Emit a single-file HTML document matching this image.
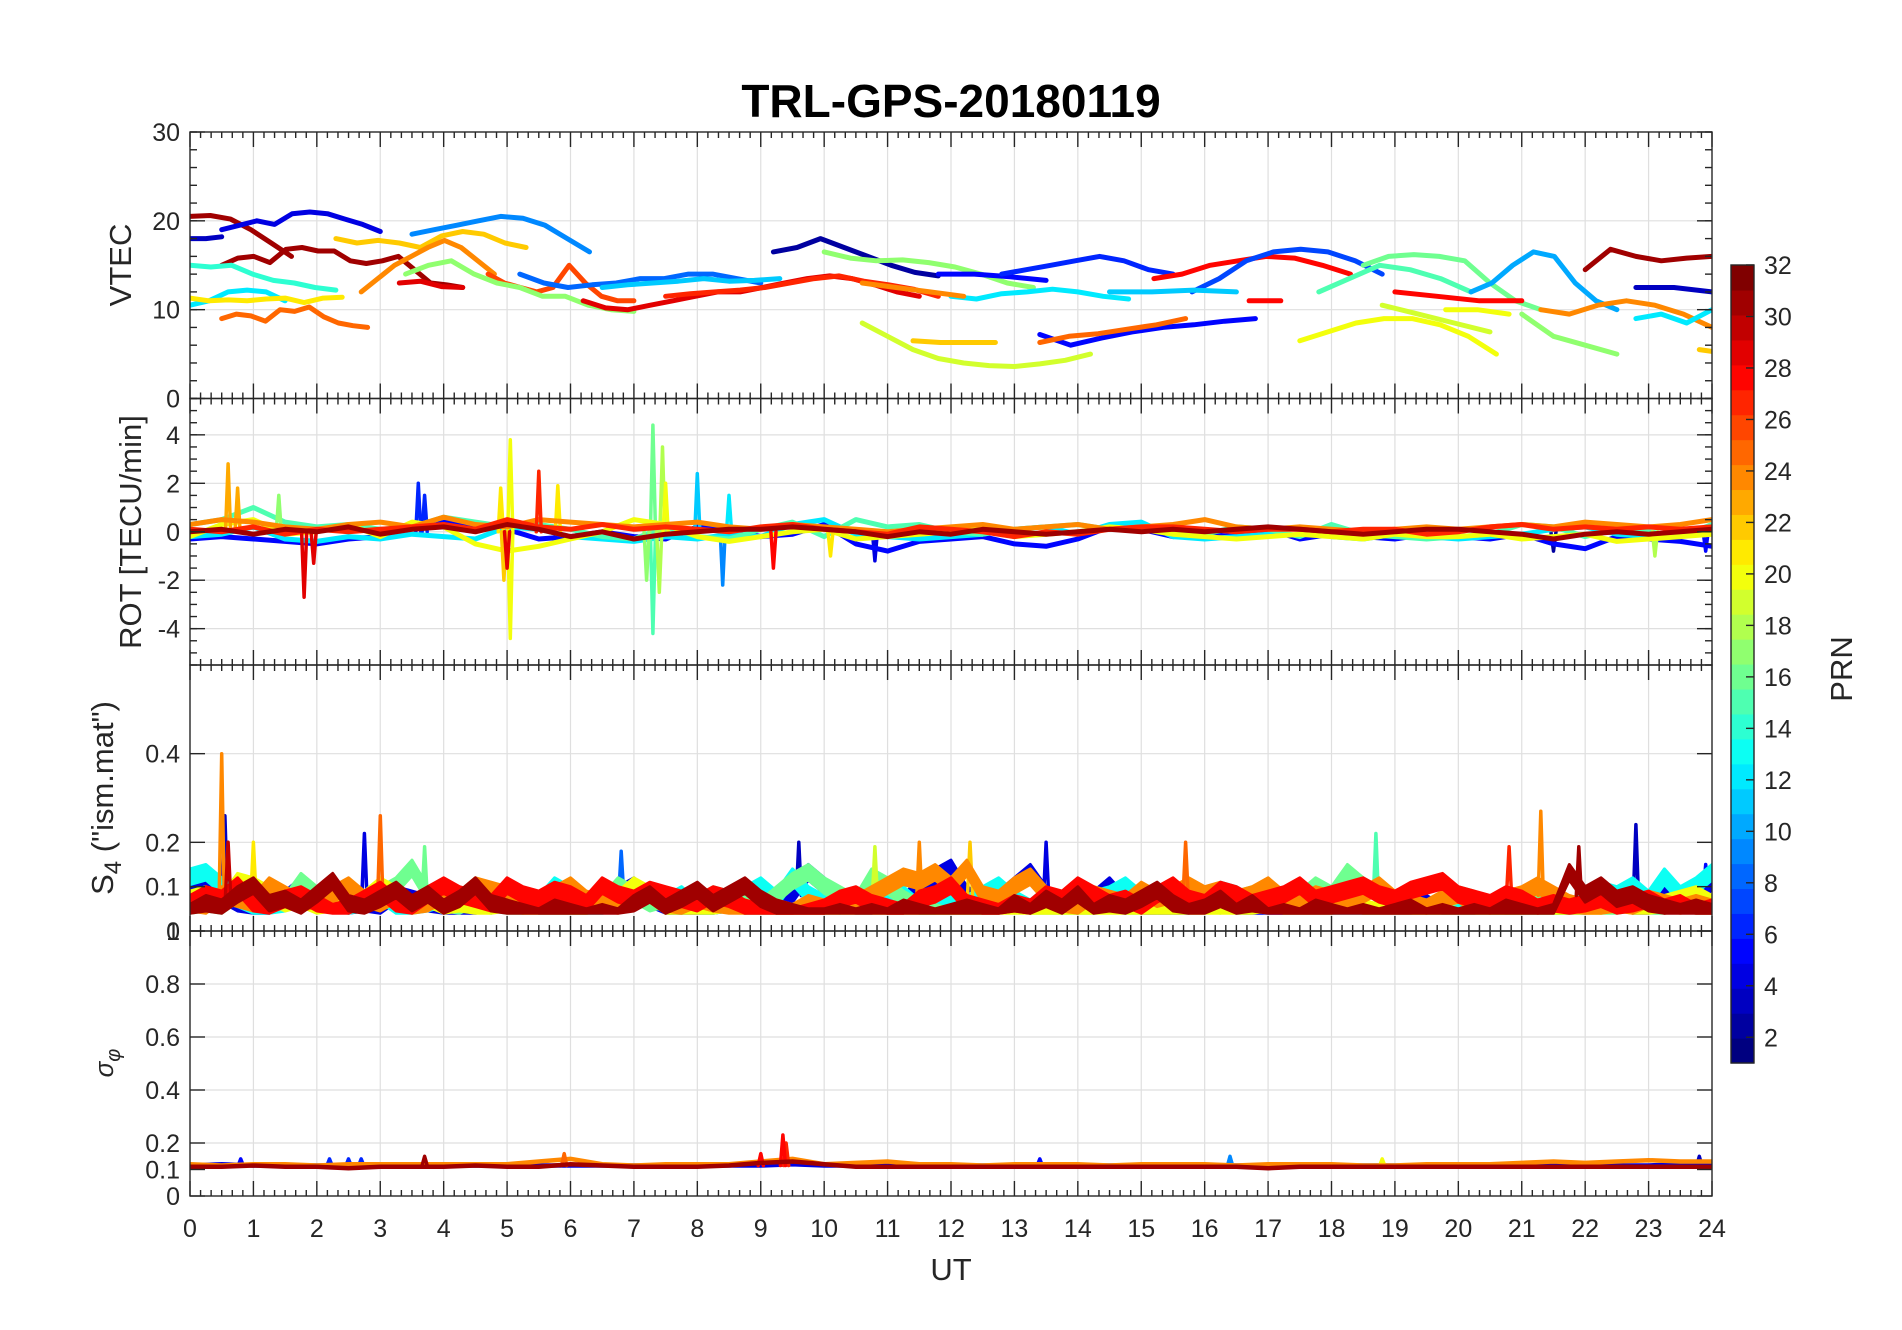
<!DOCTYPE html>
<html><head><meta charset="utf-8"><title>TRL-GPS-20180119</title>
<style>html,body{margin:0;padding:0;background:#fff}svg{display:block;font-family:"Liberation Sans",Arial,sans-serif}</style>
</head><body>
<svg id="chart" width="1902" height="1330" viewBox="0 0 1902 1330" xmlns="http://www.w3.org/2000/svg">
<text x="951" y="117" text-anchor="middle" font-size="46" font-weight="bold" fill="#000">TRL-GPS-20180119</text>
<text x="951" y="1280" text-anchor="middle" font-size="31" fill="#262626">UT</text>
<text transform="translate(131,265) rotate(-90)" text-anchor="middle" font-size="31" fill="#262626">VTEC</text>
<text transform="translate(141,532) rotate(-90)" text-anchor="middle" font-size="31" fill="#262626">ROT [TECU/min]</text>
<text transform="translate(113,798) rotate(-90)" text-anchor="middle" font-size="31" fill="#262626">S<tspan font-size="24" dy="8">4</tspan><tspan dy="-8"> ("ism.mat")</tspan></text>
<text transform="translate(113,1063) rotate(-90)" text-anchor="middle" font-size="26" font-style="italic" fill="#262626">σ<tspan font-size="20" dy="7">φ</tspan></text>
<text transform="translate(1852,669) rotate(-90)" text-anchor="middle" font-size="31" fill="#262626">PRN</text>
<g id="layer"></g>
</svg>
<script>
// ---------- data ----------
const vtecPrn = [31,3,4,31,14,12,21,25,9,22,24,29,26,17,8,11,29,27,2,17,5,6,12,19,22,5,25,24,28,7,11,15,16,20,19,28,10,31,3,24,17,12,22,28,20];
const vtecT0 = [0,0,0.5,0.5,0,0,0,0.5,3.5,2.3,2.7,3.3,4.7,3.4,5.2,6.5,6.2,7.5,9.2,10,11.8,12.8,12,10.6,11.4,13.4,13.4,10.6,15.2,15.8,14.5,17.8,18.5,17.5,18.8,19,20.2,22,22.8,21.3,21,22.8,23.8,16.7,19.8];
const vtecT1 = [1.6,0.5,3.0,4.3,2.3,1.5,2.4,2.8,6.3,5.3,4.8,4.3,7.0,7.0,9.0,9.3,11.5,11.8,11.8,13.3,13.5,15.5,14.8,14.2,12.7,16.8,15.7,12.2,18.3,18.8,16.5,20.2,21.3,20.6,20.5,21,22.5,24,24,24,22.5,24,24,17.2,20.8];
const vtecVals = [
[20.5,20.6,20.2,19,17.5,16],[18,18,18.2],[19,19.5,20,19.6,20.8,21,20.8,20.2,19.6,18.8],
[15,15.8,16,15.3,16.8,17,16.6,16.6,15.5,15.2,15.5,16,14.5,13,12.8,12.5],[15,14.8,15,14,13.3,13,12.5,12.2],
[10.5,11,12,12.2,12,11],[11.3,11,11.1,11,11.2,11.3,10.8,11.3,11.4],[9,9.5,9.3,8.7,10,9.8,10.3,9.2,8.5,8.2,8],
[18.5,19,19.5,20,20.5,20.3,19.5,18,16.5],[18,17.5,17.8,17.5,17,18.3,18.8,18.5,17.5,17],[12,13.5,15,16,17,17.8,17,15.5,14],
[13,13.2,12.6,12.5],[14,13,12.5,12,12.5,15,13,11.5,11,11],[14,15,15.5,14,13,12.5,11.5,11.5,10.5,10,9.8],
[14,13,12.5,12.8,13,13.5,13.5,14,14,13.5,13],[12.5,12.8,13,13.2,13.5,13.2,13.3,13.5],
[11,10.2,10,10.5,11,11.5,12,12,12.5,13,13.5,13.8,13.5,12.8,12,11.5],[11.5,11.8,12,12.2,12.5,13,13.5,13.8,13.2,12.8,12.3,11.5],
[16.5,17,18,17,16,15,14.2,13.8],[16.5,15.8,15.5,15.6,15.3,14.8,14,13,12.5],[14,14,13.7,13.3],[14,14.5,15,15.5,16,15.5,14.5,14],
[11.5,11.2,11.8,12,12.3,12,11.5,11.2],[8.5,7,5.5,4.5,4,3.7,3.6,3.9,4.3,5],[6.5,6.3,6.3,6.3],[7.2,6,6.8,7.5,8,8.3,8.7,9],
[6.3,7,7.3,7.8,8.3,9],[13,12.5,12,11.5],[13.5,14,15,15.5,16,15.8,15,14],[12,13.5,15.5,16.5,16.8,16.5,15.5,14],
[12,12,12.2,12],[12,13.5,15,14.5,13.5,12],[15,16,16.2,16,15.5,13,11,10],[6.5,7.5,8.5,9,9,8.3,7,5],[10.5,9.5,8.5,7.5],
[12,11.5,11,11],[12,13,15,16.5,16,13,11,10],[14.5,16.8,16,15.5,15.8,16],[12.5,12.5,12],[10,9.5,10.5,11,10.5,9.5,8],
[9.5,7,6,5],[9,9.5,8.5,10],[5.5,5.3],[11,11],[10,10,9.5]];

const rotPrn = [5,12,15,20,24,27,31];
const rotVals = [
[-.3,-.2,-.3,-.4,-.5,-.3,-.2,.3,.5,.2,.1,-.3,-.2,0,-.2,-.3,.2,.1,-.2,-.1,.3,-.5,-.8,-.4,-.3,-.2,-.5,-.6,-.3,.2,.1,-.2,-.1,-.2,.1,-.3,-.1,-.2,-.3,-.1,-.2,-.3,-.1,-.5,-.7,-.2,-.3,-.4,-.6],
[-.2,-.1,.2,-.3,-.4,-.2,-.3,-.1,-.2,-.3,.2,.1,-.2,-.3,-.4,-.2,-.3,-.1,-.2,.3,.5,-.1,-.2,-.3,-.2,-.1,.1,.2,-.1,.3,.4,-.2,-.3,-.2,-.1,.2,-.2,-.3,-.1,-.2,-.3,-.2,-.1,.1,.2,-.1,-.2,-.1,0],
[.3,.5,1,.4,.2,.3,.1,.2,.6,.4,.2,.3,.1,-.2,-.3,.2,-.2,-.3,.1,.4,-.2,.5,.2,.3,0,-.1,.1,.2,.3,.1,.2,0,-.1,.2,.1,-.2,.3,-.1,-.2,-.3,-.2,-.1,.3,.2,-.2,.1,0,-.2,.3],
[-.2,.3,.5,-.1,0,.3,-.2,.4,.2,-.5,-.8,-.6,-.3,0,.5,.3,-.2,-.4,-.2,0,.1,-.3,-.2,-.1,0,.1,-.2,-.1,0,.2,.1,-.1,-.2,-.3,-.2,-.1,-.2,-.3,-.1,-.2,-.2,-.1,-.3,-.2,-.1,-.4,-.3,-.2,-.1],
[.3,.5,.4,.2,.1,.3,.4,.2,.6,.3,.2,.5,.4,.3,.2,.3,.4,.2,.1,.3,.2,.1,0,.1,.2,.3,.1,.2,.3,.1,.2,.3,.5,.2,.1,.2,.1,0,.1,.2,.1,.2,.3,.2,.4,.3,.2,.3,.5],
[.1,0,.2,-.1,.1,0,.1,.2,.3,.1,.5,.2,.1,.3,.1,.2,.1,0,.2,.3,.1,0,-.1,.2,.1,0,-.2,0,-.1,.1,.2,.2,.1,0,.1,.1,0,.1,.1,-.1,0,.2,.3,.1,.2,.1,.2,.1,.2],
[0,.1,-.1,.1,0,.2,-.1,.1,.2,0,.3,.1,-.2,0,-.3,-.1,0,.1,.1,.2,.1,0,-.2,0,-.1,.1,0,-.1,0,.1,0,.1,0,.1,.2,.1,0,-.1,0,.1,.1,0,-.1,-.3,-.1,0,-.1,0,.1]];
const rotSpikeT = [0.6,0.75,1.4,1.8,1.95,3.6,3.7,4.9,5.05,5.05,4.95,5.5,5.0,5.8,7.3,7.3,7.45,7.4,7.5,7.2,8.0,8.4,8.5,9.2,10.1,10.8,21.5,23.9,23.1];
const rotSpikeV = [2.8,1.8,1.5,-2.7,-1.3,2.0,1.5,1.8,3.8,-4.4,-2.0,2.5,-1.5,1.9,4.4,-4.2,3.5,-2.5,2.0,-2.0,2.4,-2.2,1.5,-1.5,-1.0,-1.2,-0.8,-0.8,-1.0];
const rotSpikePrn = [23,23,17,29,29,6,6,21,20,20,22,27,29,21,16,15,18,18,20,17,11,9,12,28,21,4,2,5,18];

const s4Prn = [4,13,16,20,24,28,31];
const s4Vals = [
[.12,.14,.1,.08,.06,.07,.09,.12,.08,.1,.06,.08,.07,.1,.09,.08,.07,.06,.07,.08,.1,.09,.07,.06,.05,.07,.08,.1,.12,.09,.06,.05,.04,.06,.08,.07,.06,.05,.1,.15,.12,.08,.06,.07,.1,.08,.12,.14,.16,.1,.08,.09,.12,.15,.1,.08,.06,.09,.12,.08,.07,.06,.05,.07,.1,.08,.06,.05,.06,.07,.05,.06,.07,.08,.06,.05,.06,.07,.08,.06,.05,.07,.08,.06,.05,.06,.05,.07,.06,.08,.1,.07,.06,.12,.1,.08,.13],
[.14,.15,.12,.09,.07,.06,.08,.1,.07,.09,.06,.08,.1,.07,.06,.08,.09,.1,.08,.07,.11,.09,.08,.12,.1,.07,.06,.08,.11,.09,.08,.1,.07,.06,.08,.1,.12,.09,.14,.1,.08,.07,.09,.11,.08,.1,.07,.06,.09,.08,.1,.12,.09,.07,.1,.08,.06,.09,.1,.12,.09,.07,.1,.08,.09,.11,.1,.08,.07,.09,.1,.08,.07,.06,.05,.07,.09,.08,.06,.05,.06,.07,.05,.06,.05,.06,.05,.07,.09,.11,.1,.12,.09,.14,.1,.12,.15],
[.07,.08,.06,.1,.12,.09,.08,.13,.1,.08,.07,.09,.1,.12,.16,.1,.08,.07,.09,.08,.07,.06,.08,.1,.07,.06,.08,.12,.1,.08,.09,.07,.08,.1,.09,.08,.07,.1,.13,.15,.12,.1,.08,.14,.12,.09,.07,.06,.05,.06,.07,.09,.08,.06,.05,.07,.06,.05,.08,.07,.06,.08,.07,.1,.08,.07,.09,.1,.08,.07,.09,.12,.1,.15,.12,.1,.08,.07,.06,.08,.1,.09,.07,.06,.07,.08,.06,.07,.08,.06,.07,.08,.06,.07,.08,.07,.06],
[.09,.1,.08,.13,.12,.1,.08,.09,.07,.08,.1,.09,.12,.1,.08,.09,.07,.08,.06,.07,.08,.06,.05,.06,.07,.06,.08,.09,.12,.1,.07,.06,.05,.06,.08,.07,.06,.05,.06,.05,.06,.05,.06,.07,.05,.06,.05,.04,.05,.06,.05,.06,.05,.06,.05,.06,.07,.05,.06,.07,.06,.05,.06,.07,.06,.05,.06,.07,.08,.06,.05,.07,.06,.08,.07,.06,.05,.06,.07,.06,.05,.06,.07,.05,.06,.05,.06,.07,.06,.07,.08,.07,.06,.08,.09,.1,.08],
[.08,.07,.1,.09,.08,.12,.1,.08,.09,.1,.12,.09,.08,.1,.07,.08,.1,.09,.12,.11,.1,.09,.08,.1,.12,.09,.08,.07,.09,.1,.08,.07,.09,.08,.07,.06,.08,.07,.06,.08,.07,.09,.08,.1,.12,.14,.13,.15,.12,.16,.1,.09,.12,.14,.1,.08,.07,.1,.09,.08,.11,.09,.1,.12,.1,.11,.09,.1,.12,.09,.08,.1,.09,.08,.1,.12,.09,.08,.07,.09,.1,.08,.07,.09,.1,.12,.1,.08,.07,.06,.08,.07,.09,.08,.07,.08,.07],
[.08,.1,.09,.12,.08,.07,.09,.1,.08,.06,.07,.09,.11,.08,.07,.1,.12,.1,.09,.08,.12,.1,.09,.11,.1,.08,.12,.1,.09,.11,.1,.09,.08,.1,.09,.07,.06,.06,.05,.06,.07,.09,.1,.08,.07,.06,.09,.1,.12,.08,.07,.06,.08,.07,.1,.09,.12,.1,.08,.09,.07,.1,.12,.09,.08,.11,.1,.08,.09,.1,.12,.09,.1,.11,.12,.1,.09,.11,.12,.13,.1,.09,.08,.1,.09,.07,.08,.07,.08,.09,.07,.08,.09,.07,.08,.06,.07],
[.06,.08,.07,.1,.12,.08,.09,.07,.1,.13,.08,.07,.09,.11,.08,.1,.07,.09,.12,.08,.07,.06,.05,.07,.06,.05,.06,.05,.08,.1,.07,.09,.11,.08,.1,.12,.09,.07,.06,.05,.05,.06,.05,.06,.05,.07,.06,.05,.06,.07,.06,.05,.08,.06,.09,.07,.1,.06,.08,.07,.09,.11,.08,.06,.07,.09,.06,.08,.05,.06,.05,.07,.06,.05,.06,.05,.06,.07,.05,.06,.05,.06,.05,.07,.06,.05,.06,.15,.1,.12,.09,.1,.08,.07,.06,.07,.06]];
const s4SpikeT = [0.5,0.55,0.6,1.0,2.75,3.0,3.7,6.8,9.6,10.8,11.5,12.3,13.5,15.7,18.7,20.8,21.3,21.9,22.8,23.9];
const s4SpikeV = [.4,.26,.2,.2,.22,.26,.19,.18,.2,.19,.2,.2,.2,.2,.22,.19,.27,.19,.24,.15];
const s4SpikePrn = [24,3,30,21,4,25,16,8,3,19,24,22,4,25,15,27,24,31,3,5];

const sigPrn = [4,24,31];
const sigVals = [
[.115,.12,.115,.115,.115,.115,.115,.115,.115,.115,.115,.115,.115,.115,.115,.115,.115,.115,.115,.12,.115,.115,.115,.115,.115,.115,.115,.115,.115,.115,.115,.115,.115,.115,.115,.115,.115,.115,.115,.115,.115,.115,.115,.115,.115,.115,.115,.12,.12],
[.12,.115,.12,.12,.115,.12,.12,.12,.12,.12,.12,.13,.14,.12,.115,.12,.12,.12,.13,.14,.12,.125,.13,.12,.12,.115,.12,.12,.12,.115,.12,.12,.12,.115,.12,.12,.12,.115,.115,.12,.12,.12,.125,.13,.125,.13,.135,.13,.13],
[.11,.11,.115,.11,.11,.105,.11,.11,.11,.115,.11,.11,.12,.115,.11,.11,.11,.115,.125,.13,.12,.11,.11,.11,.11,.11,.11,.11,.11,.11,.11,.11,.11,.11,.105,.11,.11,.11,.11,.11,.11,.11,.11,.11,.11,.11,.11,.11,.11]];
const sigSpikeT = [0.8,2.2,2.5,2.7,3.7,9.0,9.35,9.4,5.9,13.4,16.4,23.8,18.8];
const sigSpikeV = [.14,.14,.14,.14,.15,.16,.23,.2,.16,.14,.15,.15,.14];
const sigSpikePrn = [5,6,6,6,31,28,28,27,25,5,9,3,20];

const xTicks = [0,1,2,3,4,5,6,7,8,9,10,11,12,13,14,15,16,17,18,19,20,21,22,23,24];
const cbTicks = [2,4,6,8,10,12,14,16,18,20,22,24,26,28,30,32];

// ---------- layout ----------
const NS = 'http://www.w3.org/2000/svg';
const L = 190, R = 1712;
const xS = h => L + (h / 24) * (R - L);
const panels = [
  {key:'vtec', top:132, bot:398.5, min:0, max:30, labels:[0,10,20,30], grid:[10,20], minor:2},
  {key:'rot', top:398.5, bot:665, min:-5.5, max:5.5, labels:[-4,-2,0,2,4], grid:[-4,-2,0,2,4], minor:0.5},
  {key:'s4', top:665, bot:931, min:0, max:0.6, labels:[0,0.1,0.2,0.4], grid:[0.2,0.4], minor:0},
  {key:'sigma', top:931, bot:1196, min:0, max:1, labels:[0,0.1,0.2,0.4,0.6,0.8,1], grid:[0.2,0.4,0.6,0.8], minor:0}
];
panels.forEach(p => { p.y = v => p.bot - (v - p.min) / (p.max - p.min) * (p.bot - p.top); });

function jet(prn) {
  const t = (prn - 1) / 31;
  const c = v => Math.round(255 * Math.max(0, Math.min(1, v)));
  return `rgb(${c(1.5 - Math.abs(4*t - 3))},${c(1.5 - Math.abs(4*t - 2))},${c(1.5 - Math.abs(4*t - 1))})`;
}
const layer = document.getElementById('layer');
function mk(tag, attrs, parent) {
  const e = document.createElementNS(NS, tag);
  for (const k in attrs) e.setAttribute(k, attrs[k]);
  (parent || layer).appendChild(e);
  return e;
}
const defs = mk('defs', {});
const fmt = v => (Math.round(v * 10) / 10).toString();

panels.forEach(p => {
  const cp = mk('clipPath', {id: 'clip-' + p.key}, defs);
  mk('rect', {x: L, y: p.top, width: R - L, height: p.bot - p.top}, cp);
  const g = mk('g', {});
  
  
  xTicks.slice(1, -1).forEach(h => {
    const gl = mk('line', {x1: xS(h), x2: xS(h), y1: p.top, y2: p.bot, stroke: '#dfdfdf', 'stroke-width': 1.2}, g);
    
    
  });
  p.grid.forEach(v => {
    const gl = mk('line', {x1: L, x2: R, y1: p.y(v), y2: p.y(v), stroke: '#dfdfdf', 'stroke-width': 1.2}, g);
    
    
  });
  p.g = mk('g', {'clip-path': 'url(#clip-' + p.key + ')', 'stroke-linejoin': 'round', 'stroke-linecap': 'round', fill: 'none'}, g);
  
  
  p.axis = mk('g', {stroke: '#262626', 'stroke-width': 1.4}, g);
});

function poly(p, pts, prn, w, name) {
  const e = mk('polyline', {points: pts.map(q => q[0].toFixed(1) + ',' + q[1].toFixed(1)).join(' '), stroke: jet(prn), 'stroke-width': w}, p.g);
  
  
}
// band: polygon between the values and (value - thickness), never below floor
function band(p, ts, vs, thick, floor, prn, name) {
  const upper = ts.map((t, j) => [xS(t), p.y(vs[j])]);
  const lower = ts.map((t, j) => [xS(t), p.y(Math.max(floor, vs[j] - thick))]).reverse();
  const all = upper.concat(lower);
  const e = mk('polygon', {points: all.map(q => q[0].toFixed(1) + ',' + q[1].toFixed(1)).join(' '), fill: jet(prn), stroke: jet(prn), 'stroke-width': 3}, p.g);
  
  
}

const pV = panels[0];
vtecPrn.forEach((prn, i) => {
  const vals = vtecVals[i], n = vals.length;
  const pts = vals.map((v, j) => [xS(vtecT0[i] + (vtecT1[i] - vtecT0[i]) * j / (n - 1)), pV.y(v)]);
  poly(pV, pts, prn, 5, 'vtec-arc-prn' + prn);
});

function noisy(p, prns, vals, spT, spV, spP, w, nm, bandThick) {
  const items = [];
  prns.forEach((prn, i) => items.push({prn, kind: 's', i}));
  spP.forEach((prn, i) => items.push({prn, kind: 'k', i}));
  items.sort((a, b) => a.prn - b.prn);
  items.forEach(it => {
    if (it.kind === 's') {
      const v = vals[it.i], n = v.length;
      const ts = v.map((y, j) => 24 * j / (n - 1));
      if (bandThick) band(p, ts, v, bandThick, 0.04, it.prn, nm + '-band-prn' + it.prn);
      else poly(p, ts.map((t, j) => [xS(t), p.y(v[j])]), it.prn, w, nm + '-series-prn' + it.prn);
    } else {
      const base = p.key === 'rot' ? 0 : p.key === 's4' ? 0.08 : 0.115;
      const t = spT[it.i];
      poly(p, [[xS(t - 0.04), p.y(base)], [xS(t), p.y(spV[it.i])], [xS(t + 0.04), p.y(base)]], it.prn, 3.5, nm + '-spike');
    }
  });
}
noisy(panels[1], rotPrn, rotVals, rotSpikeT, rotSpikeV, rotSpikePrn, 5, 'rot');
noisy(panels[2], s4Prn, s4Vals, s4SpikeT, s4SpikeV, s4SpikePrn, 4, 's4', 0.035);
noisy(panels[3], sigPrn, sigVals, sigSpikeT, sigSpikeV, sigSpikePrn, 4.5, 'sigma');

panels.forEach(p => {
  const a = p.axis;
  const box = mk('rect', {x: L, y: p.top, width: R - L, height: p.bot - p.top, fill: 'none'}, a);
  
  
  for (let k = 0; k <= 24 * 6; k++) {
    const h = k / 6, len = k % 6 === 0 ? 15 : 6, x = xS(h);
    mk('line', {x1: x, x2: x, y1: p.bot, y2: p.bot - len}, a);
    mk('line', {x1: x, x2: x, y1: p.top, y2: p.top + len}, a);
  }
  if (p.minor) {
    for (let v = p.min; v <= p.max + 1e-9; v += p.minor) {
      const y = p.y(v);
      mk('line', {x1: L, x2: L + 7, y1: y, y2: y}, a);
      mk('line', {x1: R, x2: R - 7, y1: y, y2: y}, a);
    }
  }
  p.labels.forEach(v => {
    const y = p.y(v);
    mk('line', {x1: L, x2: L + 15, y1: y, y2: y}, a);
    mk('line', {x1: R, x2: R - 15, y1: y, y2: y}, a);
    const t = mk('text', {x: 180, y: y + 9, 'text-anchor': 'end', 'font-size': 25, fill: '#262626', stroke: 'none'});
    t.textContent = fmt(v);
    
    
  });
});
xTicks.forEach(h => {
  const t = mk('text', {x: xS(h), y: 1237, 'text-anchor': 'middle', 'font-size': 25, fill: '#262626'});
  t.textContent = h;
  
  
});

const cbTop = 265, cbBot = 1063, cbL = 1731, cbR = 1754;
const cbY = v => cbBot - (v - 1) / 31 * (cbBot - cbTop);
const cb = mk('g', {});


for (let i = 0; i < 32; i++) {
  const h = (cbBot - cbTop) / 32;
  mk('rect', {x: cbL, y: cbBot - (i + 1) * h, width: cbR - cbL, height: h + 0.6, fill: jet(i + 1)}, cb);
}
mk('rect', {x: cbL, y: cbTop, width: cbR - cbL, height: cbBot - cbTop, fill: 'none', stroke: '#262626', 'stroke-width': 1.4}, cb);
cbTicks.forEach(v => {
  mk('line', {x1: cbR, x2: cbR - 8, y1: cbY(v), y2: cbY(v), stroke: '#262626', 'stroke-width': 1.4}, cb);
  const t = mk('text', {x: 1764, y: cbY(v) + 9, 'font-size': 25, fill: '#262626'}, cb);
  t.textContent = v;
  
  
});
</script>
</body></html>
